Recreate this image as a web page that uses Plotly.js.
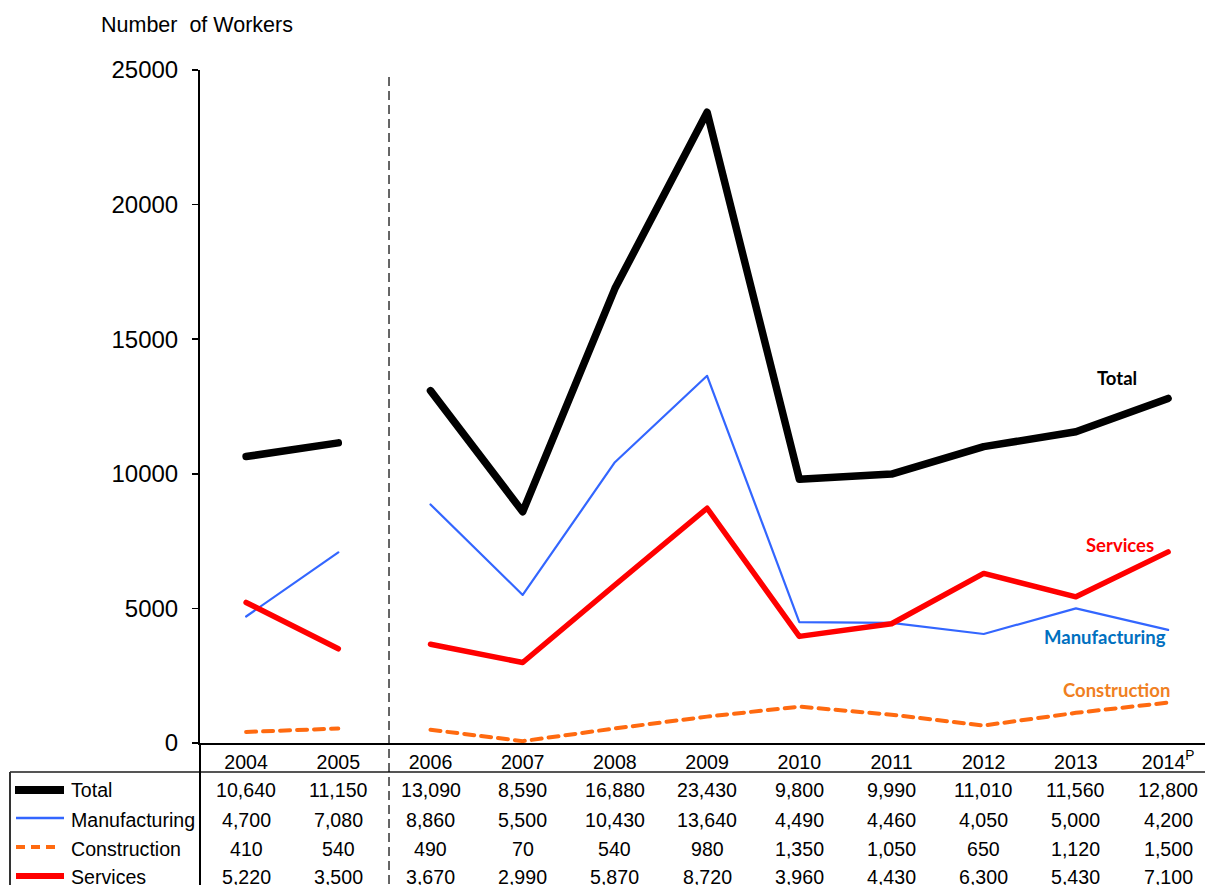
<!DOCTYPE html>
<html>
<head>
<meta charset="utf-8">
<script src="https://cdn.plot.ly/plotly-3.0.1.min.js"></script>
<style>
  html, body { margin: 0; padding: 0; background: #fff; }
  #chart { width: 1205px; height: 885px; }
  .js-line { stroke-linecap: round; stroke-linejoin: round; }
</style>
</head>
<body>
<div id="chart"></div>
<script>
// Number of workers by sector, 2004-2014 (2014 provisional)
const years = ['2004', '2005', '2006', '2007', '2008', '2009', '2010', '2011', '2012', '2013', '2014'];
const yearLabels = ['2004', '2005', '2006', '2007', '2008', '2009', '2010', '2011', '2012', '2013', '2014<sup>P</sup>'];
const total         = [10640, 11150, 13090, 8590, 16880, 23430, 9800, 9990, 11010, 11560, 12800];
const manufacturing = [4700, 7080, 8860, 5500, 10430, 13640, 4490, 4460, 4050, 5000, 4200];
const construction  = [410, 540, 490, 70, 540, 980, 1350, 1050, 650, 1120, 1500];
const services      = [5220, 3500, 3670, 2990, 5870, 8720, 3960, 4430, 6300, 5430, 7100];
const seriesNames   = ['Total', 'Manufacturing', 'Construction', 'Services'];

// the series break between 2005 and 2006
const breakAfter = 1;

// page geometry
const W = 1205, H = 885;
const M = { l: 200, r: 0, t: 70, b: 142 };
const plotW = W - M.l - M.r, plotH = H - M.t - M.b;
const px = x => (x - M.l) / plotW;          // pixel column -> paper x
const py = y => (H - M.b - y) / plotH;      // pixel row -> paper y

const FONT = 'Liberation Sans, Arial, sans-serif';
const LABEL_FONT = 'Lato, Open Sans, sans-serif';

function withGap(values) {
  const xs = [], ys = [];
  values.forEach((v, i) => {
    xs.push(i); ys.push(v);
    if (i === breakAfter) { xs.push(i + 0.5); ys.push(null); }
  });
  return { xs, ys };
}

const styles = [
  { color: '#000000', width: 7.5, dash: 'solid' },
  { color: '#3366FF', width: 2.2, dash: 'solid' },
  { color: '#FF6A10', width: 4, dash: '10px,7px' },
  { color: '#FF0000', width: 5.5, dash: 'solid' }
];
const allSeries = [total, manufacturing, construction, services];

// draw order: construction, manufacturing, services, total on top
const order = [2, 1, 3, 0];
const traces = order.map(k => {
  const g = withGap(allSeries[k]);
  return {
    type: 'scatter', mode: 'lines', name: seriesNames[k],
    x: g.xs, y: g.ys, connectgaps: false,
    line: { color: styles[k].color, width: styles[k].width, dash: styles[k].dash },
    hoverinfo: 'skip'
  };
});

const annotations = [];
const shapes = [];

// axis title above the value axis
annotations.push({
  xref: 'paper', yref: 'paper', x: px(99), y: py(25), xanchor: 'left', yanchor: 'middle',
  text: 'Number  of Workers', showarrow: false, font: { family: FONT, size: 21.5, color: '#000' }
});

// series labels near the line ends
const endLabels = [
  { text: 'Total',         color: '#000000', x: 1139, y: 378 },
  { text: 'Manufacturing', color: '#0070C0', x: 1168, y: 637 },
  { text: 'Construction',  color: '#F07F22', x: 1172, y: 690 },
  { text: 'Services',      color: '#FF0000', x: 1156, y: 545 }
];
endLabels.forEach(l => annotations.push({
  xref: 'paper', yref: 'paper', x: px(l.x), y: py(l.y), xanchor: 'right', yanchor: 'middle',
  text: '<b>' + l.text + '</b>', showarrow: false, font: { family: LABEL_FONT, size: 18.5, color: l.color }
}));

// data table under the chart
const rowY = [790, 820, 849, 877];
allSeries.forEach((vals, k) => {
  vals.forEach((v, i) => annotations.push({
    xref: 'x', yref: 'paper', x: i, y: py(rowY[k]), xanchor: 'center', yanchor: 'middle',
    text: v.toLocaleString('en-US'), showarrow: false,
    font: { family: FONT, size: 19.6, color: '#000' }
  }));
  annotations.push({
    xref: 'paper', yref: 'paper', x: px(69), y: py(rowY[k]), xanchor: 'left', yanchor: 'middle',
    text: seriesNames[k], showarrow: false, font: { family: FONT, size: 19.6, color: '#000' }
  });
});

// legend keys in the table
const keyY = [790, 818, 847, 876];
const keyX = [[15, 64], [16, 64], [16, 60], [16, 64]];
const keyDash = ['solid', 'solid', '9px,6px', 'solid'];
const keyWidth = [8, 2.5, 4, 6];
allSeries.forEach((_, k) => shapes.push({
  type: 'line', xref: 'paper', yref: 'paper',
  x0: px(keyX[k][0]), x1: px(keyX[k][1]), y0: py(keyY[k]), y1: py(keyY[k]),
  line: { color: styles[k].color, width: keyWidth[k], dash: keyDash[k] }
}));

// table frame
shapes.push({ type: 'line', xref: 'paper', yref: 'paper', x0: px(10), x1: 1, y0: py(772), y1: py(772), line: { color: '#555', width: 2 } });
shapes.push({ type: 'line', xref: 'paper', yref: 'paper', x0: px(10), x1: px(10), y0: py(772), y1: py(H + 5), line: { color: '#333', width: 2 } });
shapes.push({ type: 'line', xref: 'paper', yref: 'paper', x0: 0, x1: 0, y0: 0, y1: py(H + 5), line: { color: '#000', width: 2 } });

// dashed divider at the series break
shapes.push({
  type: 'line', xref: 'x', yref: 'paper', x0: breakAfter + 0.55, x1: breakAfter + 0.55, y0: py(77), y1: py(H + 5),
  line: { color: '#000', width: 1.2, dash: '9px,5px' }
});

const layout = {
  width: W, height: H,
  margin: M,
  paper_bgcolor: '#fff', plot_bgcolor: '#fff',
  showlegend: false,
  xaxis: {
    range: [-0.5, 10.4],
    tickmode: 'array', tickvals: years.map((_, i) => i), ticktext: yearLabels,
    showgrid: false, zeroline: false,
    showline: true, linecolor: '#000', linewidth: 2,
    ticks: '', ticklabelstandoff: 0,
    tickfont: { family: FONT, size: 19.6, color: '#000' }
  },
  yaxis: {
    range: [0, 25000], tickvals: [0, 5000, 10000, 15000, 20000, 25000],
    tickformat: 'd',
    showgrid: false, zeroline: false,
    showline: true, linecolor: '#000', linewidth: 2,
    ticks: 'outside', ticklen: 6, tickwidth: 1.5, tickcolor: '#000',
    ticklabelstandoff: 9,
    tickfont: { family: FONT, size: 24, color: '#000' }
  },
  annotations, shapes
};

Plotly.newPlot('chart', traces, layout, { staticPlot: true, displayModeBar: false });
</script>
</body>
</html>
